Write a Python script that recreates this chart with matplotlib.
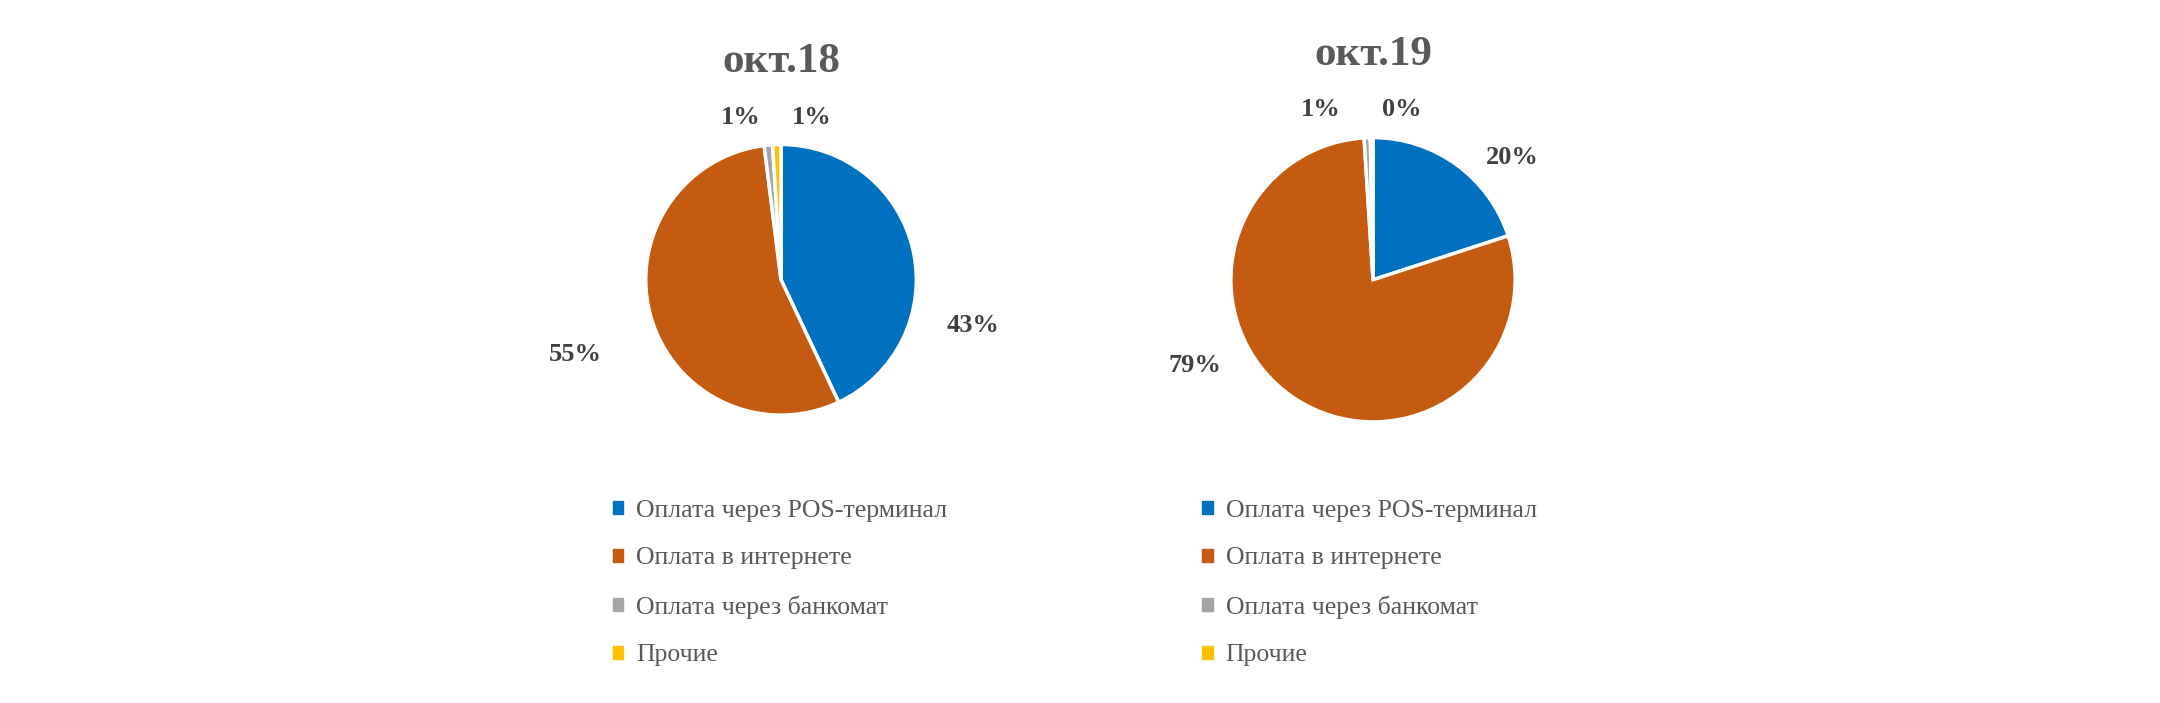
import matplotlib.pyplot as plt
from matplotlib.patches import Patch

categories = ['Оплата через POS-терминал', 'Оплата в интернете',
              'Оплата через банкомат', 'Прочие']
colors = ['#0070C0', '#C55A11', '#A5A5A5', '#FFC000']

titles = ['окт.18', 'окт.19']
values = [[43, 55, 1, 1], [20, 79, 0.7, 0.3]]
pct_labels = [['43%', '55%', '1%', '1%'], ['20%', '79%', '1%', '0%']]

# label positions in radius units (x, y)
label_pos = [[(1.42, -0.34), (-1.52, -0.55), (-0.3, 1.2), (0.23, 1.2)],
             [(0.98, 0.86), (-1.25, -0.6), (-0.37, 1.2), (0.2, 1.2)]]
axes_rect = [[0.2977, 0.4057, 0.1278, 0.3926],
             [0.5685, 0.3958, 0.1343, 0.4125]]
legend_anchor = [(0.273, 0.322), (0.546, 0.322)]

plt.rcParams['font.family'] = ['Liberation Serif', 'DejaVu Serif']
fig = plt.figure(figsize=(21.6, 7.03), dpi=100)

for i in range(2):
    ax = fig.add_axes(axes_rect[i])
    ax.pie(values[i], colors=colors, startangle=90, counterclock=False,
           wedgeprops=dict(edgecolor='white', linewidth=2.5))
    ax.set_xlim(-1.02, 1.02)
    ax.set_ylim(-1.02, 1.02)
    ax.set_aspect('equal')
    for (x, y), s in zip(label_pos[i], pct_labels[i]):
        ax.text(x, y, s, ha='center', va='center', fontsize=19,
                fontweight='bold', color='#404040')
    ax.set_title(titles[i], fontsize=31, fontweight='bold', color='#595959', pad=50)
    handles = [Patch(color=c) for c in colors]
    fig.legend(handles, categories, loc='upper left', bbox_to_anchor=legend_anchor[i],
               frameon=False, fontsize=18.5, handlelength=0.4, handleheight=0.4,
               handletextpad=0.5, labelspacing=1.0, labelcolor='#595959')

fig.savefig('out.png', dpi=100)
